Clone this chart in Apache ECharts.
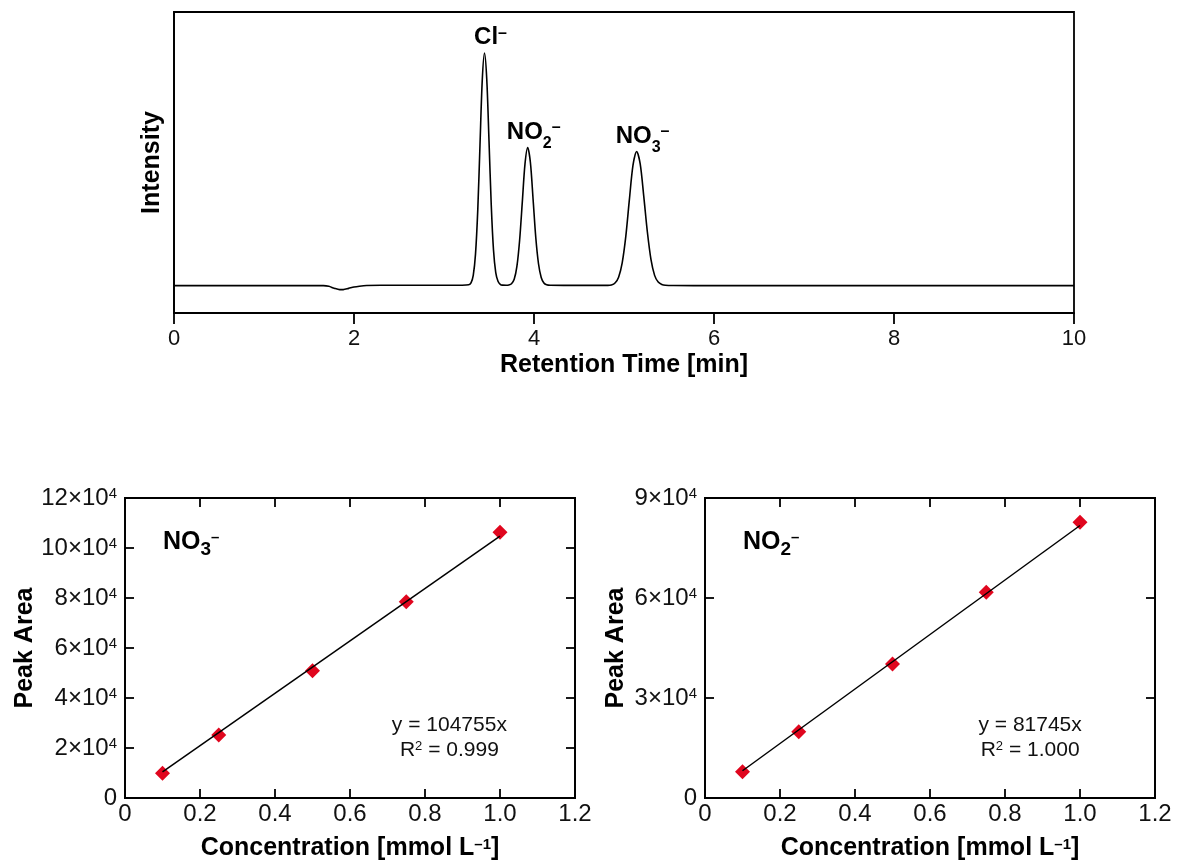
<!DOCTYPE html>
<html>
<head>
<meta charset="utf-8">
<script src="https://cdn.jsdelivr.net/npm/echarts@6/dist/echarts.min.js"></script>
<style>
  html, body { margin: 0; padding: 0; background: #fff; }
  #chart { width: 1178px; height: 863px; }
</style>
</head>
<body>
<div id="chart"></div>
<script>
// ---- Ion chromatogram (baseline-referenced detector response) ----
const retentionTime = [
  0.00, 0.50, 1.00, 1.50, 1.66, 1.72, 1.78, 1.84, 1.88, 1.94, 2.00, 2.06, 2.14, 2.30, 2.60, 3.00, 3.20,
  3.275, 3.300, 3.325, 3.350, 3.375, 3.400, 3.425, 3.450, 3.475, 3.500, 3.525, 3.550, 3.575, 3.600, 3.625, 3.650, 3.690,
  3.72, 3.75, 3.78, 3.81, 3.84, 3.87, 3.90, 3.93, 3.96, 3.99, 4.02, 4.05, 4.08, 4.11, 4.14, 4.18, 4.40,
  4.82, 4.86, 4.90, 4.94, 4.98, 5.02, 5.06, 5.10, 5.14, 5.18, 5.22, 5.26, 5.30, 5.34, 5.38, 5.42, 5.46, 5.55,
  6.00, 7.00, 8.00, 9.00, 10.00
];
const intensity = [
  0, 0, 0, 0, 0, -0.5, -1.9, -2.9, -2.9, -2.0, -1.0, -0.4, 0.1, 0.3, 0.3, 0.3, 0.3,
  0.6, 2.0, 7.5, 23, 55, 103, 150, 170, 151, 106, 59, 26, 9.5, 3.2, 1.0, 0.4, 0.3,
  0.5, 1.4, 4.6, 14, 33, 61, 89, 101, 90, 63, 35, 16, 6, 2, 0.7, 0.3, 0.2,
  0.2, 0.5, 1.9, 6.2, 16.7, 36, 63, 88, 98, 89, 65, 39, 19, 7.5, 2.6, 0.9, 0.3, 0.1,
  0, 0, 0, 0, 0
];

// Peak identification
const peakIon = ['Cl', 'NO', 'NO'];
const peakSubscript = ['', '2', '3'];
const peakTime = [3.45, 3.93, 5.14];
const peakHeight = [170, 101, 98];

// ---- Calibration standards ----
const concentration = [0.1, 0.25, 0.5, 0.75, 1.0];
const nitrateArea = [9900, 25200, 50900, 78500, 106300];
const nitriteArea = [7900, 19900, 40200, 61700, 82700];
const nitrateSlope = 104755;
const nitrateR2 = '0.999';
const nitriteSlope = 81745;
const nitriteR2 = '1.000';
const fitRange = [0.1, 1.0];

const FONT = "'Liberation Sans', Arial, Helvetica, sans-serif";
const INK = '#000';
const LABEL_INK = '#111';
const MARKER_RED = '#e0061e';
const AXIS_W = 1.8;

const chart = echarts.init(document.getElementById('chart'), null, { renderer: 'canvas' });

const lineStyle = { color: INK, width: AXIS_W };

function gridBox(left, top, width, height) {
  return {
    left, top, width, height,
    show: true, borderColor: INK, borderWidth: AXIS_W,
    backgroundColor: 'transparent', containLabel: false, outerBoundsMode: 'none'
  };
}

// Rich styles for ion formulas
const ionRich = (base, subSize, subPad, supSize, supPad, lh) => ({
  b: { fontSize: base, fontWeight: 'bold', color: INK, fontFamily: FONT, lineHeight: lh },
  sub: { fontSize: subSize, fontWeight: 'bold', color: INK, fontFamily: FONT, lineHeight: lh,
         verticalAlign: 'top', padding: [subPad, 0, 0, 0] },
  sup: { fontSize: supSize, fontWeight: 'bold', color: INK, fontFamily: FONT, lineHeight: lh,
         verticalAlign: 'top', padding: [supPad, 0, 0, 0] }
});

function ionText(base, sub) {
  return '{b|' + base + '}' + (sub ? '{sub|' + sub + '}' : '') + '{sup|–}';
}

// Calibration panel axes: labelled bottom/left plus mirrored top/right, ticks inward
function calibX(gi) {
  const common = {
    gridIndex: gi, type: 'value', min: 0, max: 1.2, interval: 0.2,
    axisLine: { show: true, onZero: false, lineStyle },
    axisTick: { show: true, inside: true, length: 9, lineStyle },
    splitLine: { show: false }
  };
  return [
    Object.assign({}, common, {
      position: 'bottom',
      axisLabel: {
        show: true, fontSize: 24, color: LABEL_INK, fontFamily: FONT, margin: 4,
        showMinLabel: true, showMaxLabel: true,
        formatter: v => (v === 0 ? '0' : v.toFixed(1))
      },
      name: '{n|Concentration [mmol L}{p|–1}{n|]}',
      nameLocation: 'middle', nameGap: 35,
      nameTextStyle: {
        rich: {
          n: { fontSize: 25, fontWeight: 'bold', color: INK, fontFamily: FONT, lineHeight: 30 },
          p: { fontSize: 15, fontWeight: 'bold', color: INK, fontFamily: FONT, lineHeight: 30,
               verticalAlign: 'top', padding: [4, 0, 0, 0] }
        }
      }
    }),
    Object.assign({}, common, { position: 'top', axisLabel: { show: false } })
  ];
}

function calibY(gi, max, step, nameGap) {
  const common = {
    gridIndex: gi, type: 'value', min: 0, max: max, interval: step,
    axisLine: { show: true, onZero: false, lineStyle },
    axisTick: { show: true, inside: true, length: 9, lineStyle },
    splitLine: { show: false }
  };
  return [
    Object.assign({}, common, {
      position: 'left',
      axisLabel: {
        show: true, margin: 8, showMinLabel: true, showMaxLabel: true,
        formatter: v => (v === 0 ? '{n|0}' : '{n|' + Math.round(v / 1e4) + '×10}{p|4}'),
        rich: {
          n: { fontSize: 24, color: LABEL_INK, fontFamily: FONT, lineHeight: 26 },
          p: { fontSize: 15, color: LABEL_INK, fontFamily: FONT, lineHeight: 26,
               verticalAlign: 'top', padding: [1, 0, 0, 0] }
        }
      },
      name: 'Peak Area', nameLocation: 'middle', nameGap: nameGap, nameRotate: 90,
      nameTextStyle: { fontSize: 25, fontWeight: 'bold', color: INK, fontFamily: FONT }
    }),
    Object.assign({}, common, { position: 'right', axisLabel: { show: false } })
  ];
}

// Invisible anchor symbol for text annotations (full opacity so labels stay solid)
const hidden = { color: 'rgba(0,0,0,0)', opacity: 1 };

function calibSeries(xi, yi, areas, slope, r2, ionSub, ionAnchor, eqAnchor) {
  return [
    {
      type: 'scatter', xAxisIndex: xi, yAxisIndex: yi, z: 3,
      symbol: 'diamond', symbolSize: 15,
      itemStyle: { color: MARKER_RED, opacity: 1 },
      data: concentration.map((c, i) => [c, areas[i]])
    },
    {
      type: 'line', xAxisIndex: xi, yAxisIndex: yi, z: 4,
      symbol: 'none', lineStyle: { color: INK, width: 1.5 },
      data: fitRange.map(c => [c, slope * c])
    },
    {
      type: 'scatter', xAxisIndex: xi, yAxisIndex: yi, silent: true, z: 5,
      symbolSize: 1, itemStyle: hidden,
      data: [ionAnchor],
      label: {
        show: true, position: 'right', distance: 0,
        formatter: () => ionText('NO', ionSub),
        rich: ionRich(25, 19, 16, 15, 6, 36)
      }
    },
    {
      type: 'scatter', xAxisIndex: xi, yAxisIndex: yi, silent: true, z: 5,
      symbolSize: 1, itemStyle: hidden,
      data: [eqAnchor],
      label: {
        show: true, position: 'inside', align: 'center',
        formatter: () => '{e|y = ' + slope + 'x}\n{e|R}{q|2}{e| = ' + r2 + '}',
        rich: {
          e: { fontSize: 21, color: LABEL_INK, fontFamily: FONT, lineHeight: 25, align: 'center' },
          q: { fontSize: 13, color: LABEL_INK, fontFamily: FONT, lineHeight: 25, align: 'center',
               verticalAlign: 'top', padding: [2, 0, 0, 0] }
        }
      }
    }
  ];
}

const nitX = calibX(1), nitY = calibY(1, 120000, 20000, 84);
const niiX = calibX(2), niiY = calibY(2, 90000, 30000, 76);

const option = {
  animation: false,
  backgroundColor: '#fff',
  textStyle: { fontFamily: FONT },
  grid: [
    gridBox(174, 12, 900, 301),
    gridBox(125, 498, 450, 300),
    gridBox(705, 498, 450, 300)
  ],
  xAxis: [
    {
      gridIndex: 0, type: 'value', min: 0, max: 10, interval: 2, position: 'bottom',
      axisLine: { show: true, onZero: false, lineStyle },
      axisTick: { show: true, inside: false, length: 11, lineStyle },
      axisLabel: { show: true, fontSize: 22, color: LABEL_INK, fontFamily: FONT, margin: 15,
                   showMinLabel: true, showMaxLabel: true },
      splitLine: { show: false },
      name: 'Retention Time [min]', nameLocation: 'middle', nameGap: 40,
      nameTextStyle: { fontSize: 25, fontWeight: 'bold', color: INK, fontFamily: FONT }
    },
    nitX[0], nitX[1], niiX[0], niiX[1]
  ],
  yAxis: [
    {
      gridIndex: 0, type: 'value', min: -20, max: 200, position: 'left',
      axisLine: { show: true, onZero: false, lineStyle },
      axisTick: { show: false }, axisLabel: { show: false }, splitLine: { show: false },
      name: 'Intensity', nameLocation: 'middle', nameGap: 9, nameRotate: 90,
      nameTextStyle: { fontSize: 25, fontWeight: 'bold', color: INK, fontFamily: FONT }
    },
    nitY[0], nitY[1], niiY[0], niiY[1]
  ],
  series: [
    {
      type: 'line', xAxisIndex: 0, yAxisIndex: 0,
      symbol: 'none', smooth: 0.3,
      lineStyle: { color: INK, width: 1.6 },
      data: retentionTime.map((t, i) => [t, intensity[i]])
    },
    {
      type: 'scatter', xAxisIndex: 0, yAxisIndex: 0, silent: true,
      symbolSize: 1, itemStyle: hidden,
      data: peakTime.map((t, i) => [t, peakHeight[i]]),
      label: {
        show: true, position: 'top', distance: 0, offset: [6, 6],
        formatter: p => ionText(peakIon[p.dataIndex], peakSubscript[p.dataIndex]),
        rich: ionRich(24, 16, 25, 16, 9, 42)
      }
    },
    ...calibSeries(1, 1, nitrateArea, nitrateSlope, nitrateR2, '3', [0.1, 102300], [0.865, 24200]),
    ...calibSeries(3, 3, nitriteArea, nitriteSlope, nitriteR2, '2', [0.1, 76700], [0.867, 18150])
  ]
};

chart.setOption(option);
</script>
</body>
</html>
